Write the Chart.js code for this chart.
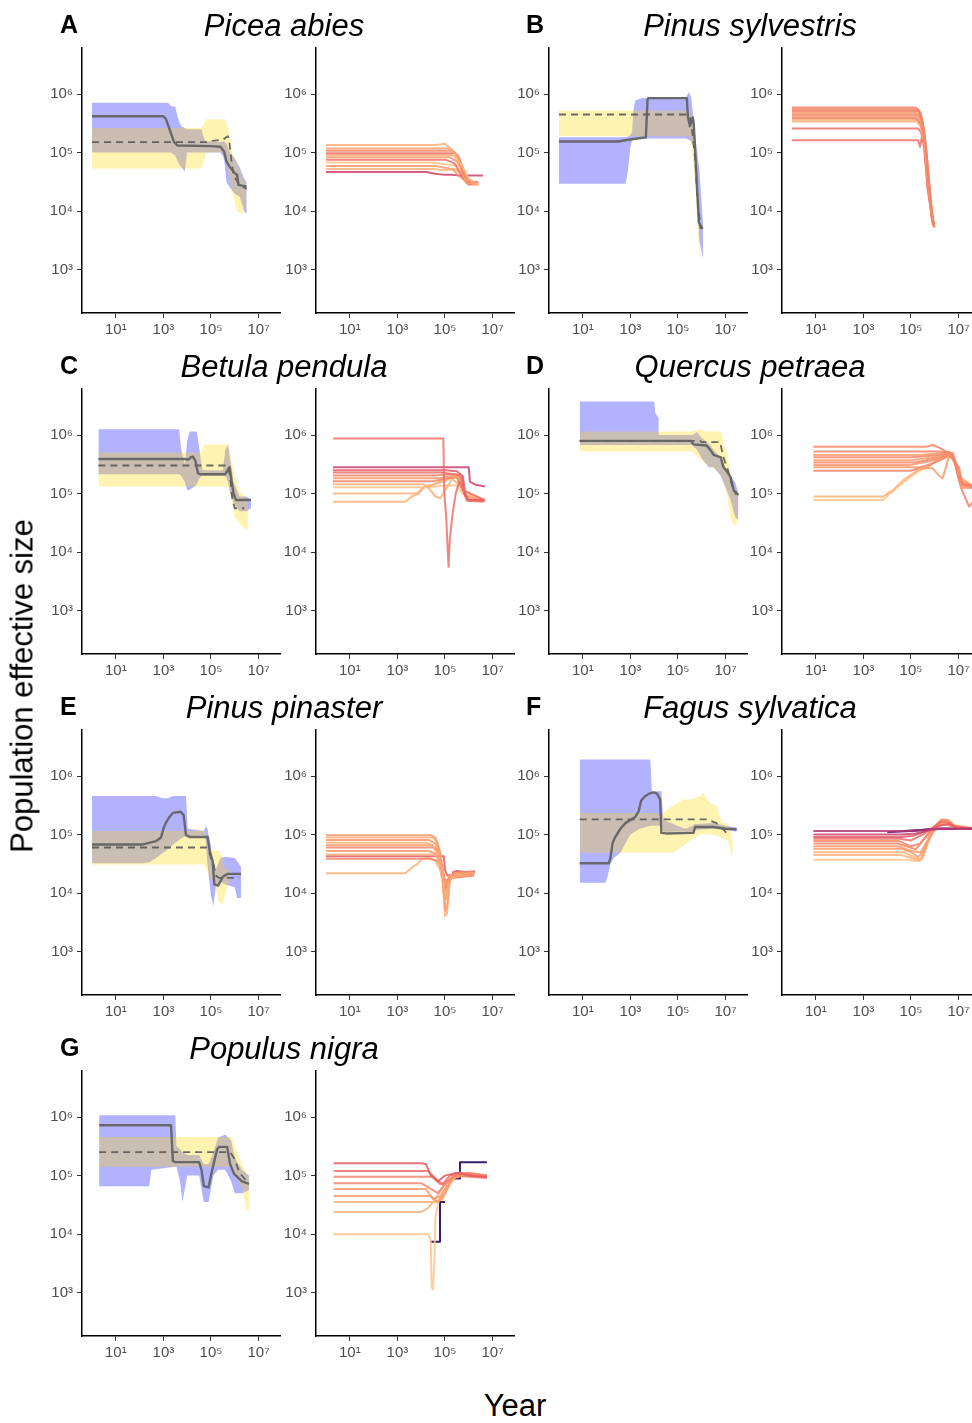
<!DOCTYPE html>
<html>
<head>
<meta charset="utf-8">
<script src="https://cdn.jsdelivr.net/npm/chart.js@4.4.1/dist/chart.umd.min.js"></script>
<style>
html,body{margin:0;padding:0;background:#fff;}
body{width:972px;height:1423px;overflow:hidden;position:relative;font-family:"Liberation Sans",Arial,sans-serif;}
canvas{position:absolute;}
.title{position:absolute;font-style:italic;font-size:31px;line-height:31px;white-space:nowrap;transform:translateX(-50%);color:#000;}
.letter{position:absolute;font-weight:bold;font-size:25px;line-height:25px;color:#000;}
.axt{position:absolute;font-size:31px;line-height:31px;white-space:nowrap;color:#000;}
</style>
</head>
<body>
<script>
// ---------------- DATA (all values are log10: [log10(year), log10(Ne)] ) ----------------
const speciesNames = ['Picea abies','Pinus sylvestris','Betula pendula','Quercus petraea','Pinus pinaster','Fagus sylvatica','Populus nigra'];
const panelLetters = ['A','B','C','D','E','F','G'];
const xTickExponents = [1,3,5,7];
const yTickExponents = [3,4,5,6];

// ---- A: Picea abies ----  bands: [logYear, logLow, logHigh]
const piceaBlueBand = [[0,5.0,5.85],[3.2,5.0,5.85],[3.3,5.0,5.8],[3.5,4.95,5.78],[3.6,4.85,5.6],[3.75,4.75,5.45],[3.9,4.68,5.42],[4.0,5.0,5.4],[4.6,5.0,5.4],[4.75,5.0,5.2],[5.4,5.0,5.18],[5.55,4.9,5.2],[5.65,4.5,5.15],[5.8,4.4,5.0],[6.0,4.3,4.9],[6.2,4.25,4.75],[6.4,4.0,4.55],[6.5,3.95,4.5]];
const piceaYellowBand = [[0,4.73,5.42],[4.6,4.73,5.42],[4.7,4.85,5.5],[4.8,5.0,5.57],[5.6,5.0,5.57],[5.75,4.6,5.4],[5.9,4.3,5.0],[6.1,4.0,4.8],[6.3,3.95,4.6],[6.45,4.1,4.45]];
const piceaSolid = [[0,5.62],[3.0,5.62],[3.1,5.58],[3.3,5.35],[3.45,5.18],[3.6,5.12],[5.0,5.11],[5.4,5.1],[5.55,5.02],[5.65,4.85],[5.8,4.75],[6.0,4.65],[6.1,4.62],[6.15,4.45],[6.5,4.42]];
const piceaDashed = [[0,5.18],[4.9,5.18],[5.05,5.2],[5.5,5.22],[5.7,5.28],[5.75,5.25],[5.85,4.9],[5.95,4.6],[6.2,4.45],[6.5,4.38]];
const piceaRuns = [
 [[0,5.13],[4.6,5.13],[5.0,5.15],[5.3,5.05],[5.6,4.85],[5.8,4.7],[6.0,4.55],[6.4,4.45]],
 [[0,5.07],[5.2,5.07],[5.4,5.0],[5.6,4.9],[5.75,4.75],[6.0,4.5],[6.4,4.45]],
 [[0,5.03],[5.3,5.03],[5.55,4.95],[5.7,4.7],[5.9,4.55],[6.3,4.48]],
 [[0,4.99],[5.4,4.99],[5.6,4.9],[5.75,4.68],[6.0,4.5],[6.35,4.5]],
 [[0,4.96],[5.3,4.96],[5.5,4.9],[5.7,4.75],[5.85,4.55],[6.3,4.45]],
 [[0,4.92],[5.2,4.92],[5.5,4.85],[5.7,4.72],[5.9,4.48],[6.4,4.47]],
 [[0,4.88],[5.0,4.88],[5.4,4.82],[5.7,4.6],[6.0,4.45],[6.4,4.5]],
 [[0,4.83],[4.5,4.83],[5.0,4.8],[5.5,4.78],[5.8,4.6],[6.1,4.45],[6.4,4.45]],
 [[0,4.77],[4.6,4.77],[4.9,4.75],[5.3,4.72],[5.6,4.6],[5.9,4.5],[6.3,4.48]],
 [[0,4.72],[4.5,4.72],[5.0,4.7],[5.4,4.72],[5.7,4.65],[6.0,4.5],[6.4,4.45]],
 [[0,4.67],[4.2,4.67],[4.6,4.64],[5.0,4.62],[5.3,4.62],[5.6,4.61],[6.6,4.61]]
];
const piceaRunColors = [1,2,3,4,1,2,4,0,2,1,6];

// ---- B: Pinus sylvestris ----
const sylvBlueBand = [[0,4.47,5.26],[2.8,4.47,5.26],[2.9,4.7,5.27],[3.0,5.1,5.3],[3.07,5.2,5.35],[3.12,5.22,5.7],[3.2,5.24,5.89],[3.5,5.24,5.93],[5.35,5.24,5.95],[5.45,5.22,6.03],[5.55,5.2,5.95],[5.65,5.1,5.6],[5.75,4.6,5.2],[5.9,3.5,4.7],[6.05,3.19,3.8]];
const sylvYellowBand = [[0,5.28,5.72],[5.5,5.28,5.72],[5.55,5.1,5.6],[5.65,4.8,5.4],[5.75,4.3,5.0],[5.85,3.5,4.4],[5.95,3.16,3.9]];
const sylvSolid = [[0,5.19],[2.5,5.19],[2.9,5.22],[3.3,5.24],[3.65,5.26],[3.72,5.9],[3.75,5.93],[5.37,5.93],[5.42,5.6],[5.5,5.45],[5.58,5.55],[5.62,5.6],[5.66,5.5],[5.72,5.05],[5.8,4.4],[5.88,3.8],[6.04,3.7]];
const sylvDashed = [[0,5.65],[5.37,5.65],[5.5,5.6],[5.62,5.3],[5.72,4.9],[5.82,4.2],[5.95,3.7]];
const sylvRuns = [
 [[0,5.77],[5.2,5.77],[5.35,5.72],[5.5,5.5],[5.65,5.0],[5.8,4.3],[5.95,3.75]],
 [[0,5.74],[5.25,5.74],[5.4,5.68],[5.55,5.4],[5.7,4.8],[5.85,4.1],[5.98,3.72]],
 [[0,5.71],[5.3,5.71],[5.45,5.6],[5.6,5.2],[5.75,4.5],[5.9,3.9],[5.97,3.78]],
 [[0,5.68],[5.2,5.68],[5.38,5.62],[5.52,5.35],[5.68,4.7],[5.85,4.0],[5.95,3.8]],
 [[0,5.65],[5.3,5.65],[5.45,5.55],[5.58,5.2],[5.72,4.6],[5.88,3.85],[5.96,3.76]],
 [[0,5.62],[5.25,5.62],[5.42,5.55],[5.55,5.3],[5.7,4.7],[5.85,4.0],[5.99,3.72]],
 [[0,5.59],[5.2,5.59],[5.4,5.5],[5.55,5.25],[5.7,4.55],[5.9,3.8]],
 [[0,5.56],[5.3,5.56],[5.45,5.45],[5.6,5.1],[5.75,4.4],[5.92,3.75]],
 [[0,5.53],[5.25,5.53],[5.4,5.45],[5.55,5.2],[5.72,4.5],[5.9,3.82]],
 [[0,5.41],[5.3,5.41],[5.42,5.35],[5.55,5.1],[5.7,4.4],[5.9,3.8]],
 [[0,5.21],[5.3,5.21],[5.38,5.1],[5.45,5.25],[5.55,5.15],[5.7,4.4],[5.95,3.75]]
];
const sylvRunColors = [3,3,3,2,3,2,3,1,1,4,4];

// ---- C: Betula pendula ----
const betulaBlueBand = [[0.27,5.33,6.1],[3.66,5.33,6.1],[3.75,5.3,5.75],[3.9,5.2,5.5],[4.0,5.06,5.9],[4.1,5.06,6.06],[4.4,5.15,6.06],[4.5,5.25,5.8],[4.6,5.3,5.5],[4.65,5.3,5.4],[5.5,5.3,5.4],[5.6,5.3,5.75],[5.72,5.2,5.84],[5.8,5.0,5.6],[5.95,4.85,5.2],[6.2,4.7,4.95],[6.5,4.7,4.95],[6.68,4.75,4.9]];
const betulaYellowBand = [[0.27,5.12,5.70],[4.6,5.12,5.70],[4.7,5.12,5.84],[5.75,5.12,5.84],[5.85,4.9,5.6],[6.0,4.6,5.3],[6.2,4.5,5.05],[6.4,4.4,4.95],[6.55,4.38,4.85]];
const betulaSolid = [[0.27,5.59],[3.9,5.59],[4.05,5.58],[4.15,5.62],[4.25,5.63],[4.35,5.55],[4.45,5.35],[4.55,5.33],[5.6,5.33],[5.7,5.4],[5.78,5.45],[5.85,5.25],[5.95,5.0],[6.05,4.89],[6.68,4.89]];
const betulaDashed = [[0.27,5.48],[5.7,5.48],[5.8,5.3],[5.9,4.9],[6.0,4.75],[6.4,4.75]];
const betulaRuns = [
 [[0.29,5.94],[4.93,5.94],[4.97,5.0],[5.05,4.6],[5.12,4.0],[5.15,3.75],[5.2,4.2],[5.3,4.6],[5.45,5.0],[5.6,5.2],[5.8,5.05],[6.6,4.9]],
 [[0.29,5.45],[6.0,5.45],[6.05,5.2],[6.3,5.15],[6.68,5.12]],
 [[0.29,5.4],[5.0,5.4],[5.5,5.38],[5.75,5.3],[5.85,5.0],[5.95,4.9],[6.68,4.88]],
 [[0.29,5.36],[4.8,5.36],[5.4,5.33],[5.7,5.3],[5.82,4.98],[6.0,4.88],[6.68,4.9]],
 [[0.29,5.31],[4.6,5.31],[5.2,5.33],[5.6,5.32],[5.8,5.05],[5.95,4.88],[6.6,4.86]],
 [[0.29,5.26],[4.7,5.26],[5.3,5.3],[5.7,5.25],[5.85,4.95],[6.6,4.9]],
 [[0.29,5.21],[4.5,5.21],[5.0,5.26],[5.5,5.28],[5.8,5.0],[6.0,4.9],[6.65,4.88]],
 [[0.29,5.16],[4.1,5.16],[4.3,5.1],[4.6,4.95],[4.8,4.92],[5.0,5.05],[5.3,5.25],[5.75,5.1],[5.9,4.88],[6.6,4.87]],
 [[0.29,5.11],[4.2,5.11],[4.6,5.12],[5.0,5.14],[5.5,5.14],[5.75,5.0],[6.6,4.9]],
 [[0.29,5.0],[3.82,5.0],[4.1,5.12],[4.5,5.15],[5.0,5.25],[5.5,5.28],[5.8,5.0],[6.6,4.9]],
 [[0.29,4.86],[3.33,4.86],[3.6,4.95],[3.9,5.0],[4.1,5.1],[4.5,5.15],[5.0,5.22],[5.5,5.3],[5.8,5.05],[6.6,4.9]]
];
const betulaRunColors = [4,6,5,4,3,2,3,1,0,1,1];

// ---- D: Quercus petraea ----
const quercusBlueBand = [[0.87,5.83,6.57],[4.0,5.83,6.57],[4.05,5.83,6.37],[4.18,5.83,6.3],[4.19,5.83,6.0],[5.6,5.83,6.0],[5.8,5.75,6.05],[6.0,5.6,5.95],[6.3,5.45,5.85],[6.5,5.45,5.75],[6.8,5.3,5.6],[7.0,5.1,5.45],[7.2,4.9,5.3],[7.4,4.6,5.2],[7.54,4.55,5.0]];
const quercusYellowBand = [[0.87,5.72,6.06],[5.6,5.72,6.06],[5.9,5.6,6.1],[6.2,5.5,6.06],[6.6,5.4,6.06],[6.84,5.3,6.06],[6.9,5.2,5.85],[7.05,5.0,5.7],[7.2,4.6,5.4],[7.35,4.45,5.1],[7.5,4.5,4.95]];
const quercusSolid = [[0.87,5.9],[5.55,5.9],[5.65,5.84],[6.2,5.82],[6.35,5.75],[6.5,5.66],[6.8,5.62],[6.9,5.46],[7.1,5.35],[7.2,5.29],[7.35,5.05],[7.54,4.98]];
const quercusDashed = [[0.87,5.9],[5.93,5.9],[6.0,5.88],[6.77,5.88],[6.9,5.63],[7.1,5.4],[7.3,5.1],[7.45,4.98]];
const quercusRuns = [
 [[0.9,5.8],[5.64,5.8],[5.92,5.83],[6.2,5.78],[6.47,5.72],[6.75,5.69],[6.9,5.5],[7.02,5.45],[7.16,5.17],[7.7,5.1]],
 [[0.9,5.72],[5.5,5.72],[6.2,5.72],[6.6,5.7],[6.8,5.6],[7.0,5.3],[7.2,5.15],[7.7,5.12]],
 [[0.9,5.66],[5.3,5.66],[6.0,5.68],[6.5,5.7],[6.8,5.62],[7.0,5.4],[7.15,5.1],[7.7,5.1]],
 [[0.9,5.62],[5.0,5.62],[6.0,5.65],[6.6,5.69],[6.85,5.55],[7.05,5.2],[7.7,5.1]],
 [[0.9,5.57],[5.0,5.57],[6.0,5.62],[6.6,5.68],[6.85,5.55],[7.1,5.2],[7.7,5.08]],
 [[0.9,5.53],[5.2,5.53],[6.0,5.6],[6.6,5.67],[6.9,5.5],[7.1,5.15],[7.7,5.1]],
 [[0.9,5.49],[5.0,5.49],[5.8,5.55],[6.5,5.65],[6.8,5.6],[7.0,5.3],[7.2,5.12],[7.7,5.08]],
 [[0.9,5.45],[5.5,5.45],[5.92,5.43],[6.19,5.3],[6.33,5.26],[6.47,5.45],[6.6,5.65],[6.8,5.6],[7.0,5.25],[7.7,5.12]],
 [[0.9,5.39],[5.0,5.39],[5.8,5.5],[6.4,5.6],[6.7,5.66],[6.9,5.45],[7.1,5.1],[7.44,4.78],[7.7,4.9]],
 [[0.9,4.95],[3.84,4.95],[4.0,5.0],[4.25,5.06],[4.67,5.23],[5.3,5.4],[5.64,5.43],[6.0,5.55],[6.5,5.65],[6.75,5.69],[7.0,5.3],[7.7,5.1]],
 [[0.9,4.89],[3.84,4.89],[4.1,5.0],[4.3,5.06],[4.7,5.2],[5.2,5.35],[5.64,5.45],[6.19,5.57],[6.5,5.64],[6.8,5.6],[7.05,5.2],[7.7,5.09]]
];
const quercusRunColors = [3,3,2,3,2,3,2,2,3,1,0];

// ---- E: Pinus pinaster ----
const pinasterBlueBand = [[0,4.51,5.66],[2.1,4.51,5.66],[2.4,4.53,5.66],[2.7,4.6,5.66],[2.96,4.68,5.62],[3.2,4.75,5.62],[3.4,4.83,5.66],[3.7,4.92,5.66],[3.95,4.98,5.66],[4.02,4.98,5.1],[4.7,4.98,5.06],[4.78,4.9,5.15],[4.85,4.5,5.1],[5.0,3.95,4.8],[5.1,3.78,4.5],[5.2,4.1,4.4],[5.4,4.2,4.6],[5.6,4.15,4.62],[6.0,4.1,4.6],[6.1,3.92,4.55],[6.26,3.92,4.45]];
const pinasterYellowBand = [[0,4.49,5.06],[4.72,4.49,5.06],[4.8,4.4,4.9],[4.9,4.3,4.75],[5.1,4.2,4.72],[5.35,3.85,4.72],[5.5,3.81,4.6],[5.6,4.0,4.4],[5.77,4.2,4.4]];
const pinasterSolid = [[0,4.83],[2.1,4.83],[2.4,4.86],[2.7,4.89],[2.9,4.95],[3.0,5.1],[3.1,5.2],[3.25,5.3],[3.4,5.37],[3.73,5.39],[3.85,5.33],[3.95,4.99],[4.1,4.96],[4.86,4.96],[4.95,4.7],[5.07,4.55],[5.14,4.15],[5.3,4.13],[5.5,4.28],[5.7,4.33],[6.26,4.33]];
const pinasterDashed = [[0,4.78],[4.79,4.78],[4.93,4.69],[5.0,4.6],[5.1,4.52],[5.2,4.3],[5.35,4.26],[6.19,4.26]];
const pinasterRuns = [
 [[0,4.99],[4.4,4.99],[4.6,4.95],[4.8,4.7],[4.95,4.3],[5.05,4.15],[5.15,4.2],[5.25,4.3],[5.4,4.35],[6.2,4.33]],
 [[0,4.95],[4.5,4.95],[4.7,4.85],[4.85,4.5],[5.0,4.0],[5.05,3.9],[5.12,4.1],[5.2,4.25],[5.5,4.3],[6.1,4.35]],
 [[0,4.91],[4.3,4.91],[4.6,4.85],[4.8,4.6],[4.95,4.1],[5.02,3.7],[5.1,3.8],[5.18,4.2],[5.35,4.32],[6.0,4.3]],
 [[0,4.86],[4.2,4.86],[4.5,4.82],[4.75,4.55],[4.9,4.2],[5.0,3.61],[5.08,3.65],[5.15,4.0],[5.25,4.3],[6.26,4.35]],
 [[0,4.82],[4.4,4.82],[4.7,4.75],[4.85,4.4],[4.95,4.0],[5.05,3.9],[5.15,4.2],[5.3,4.28],[6.2,4.3]],
 [[0,4.78],[4.5,4.78],[4.75,4.7],[4.9,4.35],[5.0,4.05],[5.1,4.15],[5.2,4.3],[6.15,4.32]],
 [[0,4.72],[4.3,4.72],[4.6,4.68],[4.8,4.5],[4.95,4.2],[5.05,4.1],[5.2,4.3],[5.5,4.35],[6.2,4.36]],
 [[0,4.66],[4.6,4.66],[4.8,4.55],[4.92,4.3],[5.0,3.95],[5.1,4.1],[5.2,4.28],[6.1,4.3]],
 [[0,4.63],[4.95,4.63],[5.0,4.4],[5.1,4.3],[5.3,4.32],[5.5,4.35],[6.26,4.34]],
 [[0,4.59],[4.4,4.59],[4.7,4.55],[4.9,4.4],[5.0,4.2],[5.15,4.25],[6.2,4.3]],
 [[0,4.34],[3.33,4.34],[3.5,4.4],[3.68,4.46],[3.85,4.5],[4.03,4.58],[4.3,4.6],[4.6,4.55],[4.8,4.4],[4.95,4.1],[5.05,4.2],[5.3,4.3],[6.2,4.32]],
 [[5.3,4.35],[5.5,4.38],[5.8,4.36],[6.26,4.37]],
 [[5.35,4.3],[5.6,4.32],[6.0,4.3],[6.2,4.33]]
];
const pinasterRunColors = [2,1,2,1,2,3,2,1,5,3,1,6,6];

// ---- F: Fagus sylvatica ----
const fagusBlueBand = [[0.87,4.18,6.28],[1.95,4.18,6.28],[2.05,4.3,6.28],[2.16,4.5,6.28],[2.3,4.6,6.28],[2.58,4.69,6.28],[2.79,4.85,6.28],[3.0,5.0,6.28],[3.4,5.1,6.28],[3.84,5.15,6.28],[3.9,5.15,5.74],[4.3,5.15,5.74],[4.39,5.05,5.25],[5.3,5.05,5.1],[5.45,5.03,5.12],[5.6,5.05,5.15],[5.72,5.08,5.18],[6.5,5.1,5.2],[7.0,5.08,5.15],[7.47,5.05,5.12]];
const fagusYellowBand = [[0.87,4.69,5.37],[4.4,4.69,5.37],[4.5,4.69,5.43],[4.8,4.69,5.49],[5.2,4.8,5.6],[5.5,4.9,5.6],[5.9,5.0,5.65],[6.07,5.0,5.72],[6.2,5.0,5.6],[6.42,5.0,5.52],[6.63,4.98,5.5],[6.84,4.95,5.2],[7.1,4.9,5.2],[7.25,4.63,5.0],[7.3,4.6,4.9]];
const fagusSolid = [[0.87,4.51],[2.09,4.51],[2.16,4.6],[2.25,4.85],[2.35,4.95],[2.58,5.1],[2.8,5.2],[3.0,5.25],[3.2,5.3],[3.35,5.4],[3.45,5.58],[3.6,5.65],[3.8,5.7],[3.97,5.72],[4.12,5.7],[4.25,5.6],[4.3,5.03],[4.5,5.02],[5.65,5.03],[5.72,5.13],[6.5,5.13],[7.0,5.1],[7.47,5.09]];
const fagusDashed = [[0.87,5.26],[6.2,5.26],[6.6,5.2],[6.84,5.12],[7.05,5.02],[7.1,5.0]];
const fagusRuns = [
 [[0.9,5.06],[5.0,5.06],[5.6,5.08],[6.0,5.1],[7.7,5.1]],
 [[0.9,5.0],[4.6,5.0],[5.2,5.02],[5.8,5.08],[6.3,5.1],[7.7,5.1]],
 [[0.9,4.96],[4.6,4.96],[5.1,4.98],[5.6,5.05],[6.2,5.15],[6.6,5.18],[6.9,5.12],[7.7,5.1]],
 [[0.9,4.93],[4.5,4.93],[5.0,4.9],[5.5,5.0],[6.0,5.15],[6.3,5.22],[6.6,5.2],[6.9,5.12],[7.7,5.1]],
 [[0.9,4.89],[4.5,4.89],[5.0,4.8],[5.4,4.85],[5.8,5.05],[6.2,5.22],[6.5,5.25],[6.8,5.15],[7.7,5.1]],
 [[0.9,4.85],[4.4,4.85],[4.8,4.8],[5.2,4.75],[5.5,4.9],[5.9,5.1],[6.3,5.25],[6.6,5.22],[7.0,5.1],[7.7,5.1]],
 [[0.9,4.8],[4.5,4.8],[5.0,4.72],[5.4,4.7],[5.7,4.9],[6.1,5.15],[6.5,5.2],[7.0,5.1],[7.7,5.1]],
 [[0.9,4.76],[4.6,4.76],[5.0,4.7],[5.3,4.62],[5.5,4.7],[5.8,5.0],[6.2,5.2],[6.6,5.15],[7.7,5.1]],
 [[0.9,4.7],[4.7,4.7],[5.1,4.62],[5.4,4.58],[5.6,4.75],[5.9,5.05],[6.3,5.2],[7.7,5.1]],
 [[0.9,4.65],[4.6,4.65],[5.0,4.6],[5.36,4.55],[5.5,4.6],[5.7,4.85],[6.0,5.1],[6.4,5.22],[7.0,5.1],[7.7,5.1]],
 [[0.9,4.57],[4.8,4.57],[5.2,4.55],[5.45,4.6],[5.6,4.8],[5.9,5.05],[6.26,5.26],[6.6,5.25],[6.89,5.12],[7.7,5.1]],
 [[4.67,5.06],[5.5,5.08],[6.0,5.1],[7.7,5.1]],
 [[4.0,5.04],[5.0,5.06],[6.0,5.1],[7.7,5.1]]
];
const fagusRunColors = [7,6,5,4,3,3,2,2,1,1,0,9,8];

// ---- G: Populus nigra ----
const populusBlueBand = [[0.3,4.82,6.03],[2.4,4.82,6.03],[2.5,5.1,6.03],[3.5,5.15,6.03],[3.55,5.15,5.5],[3.7,4.9,5.45],[3.8,4.55,5.4],[4.0,5.0,5.35],[4.5,5.0,5.35],[4.7,4.55,5.2],[4.9,4.55,5.2],[5.1,5.0,5.4],[5.3,5.1,5.65],[5.6,5.1,5.7],[5.85,4.9,5.6],[6.0,4.7,5.3],[6.3,4.7,5.1],[6.6,4.75,5.0]];
const populusYellowBand = [[0.3,5.15,5.66],[5.9,5.15,5.66],[6.0,5.0,5.5],[6.3,4.8,5.2],[6.5,4.4,5.05],[6.6,4.4,4.95]];
const populusSolid = [[0.3,5.86],[3.32,5.86],[3.4,5.25],[3.5,5.23],[4.5,5.23],[4.6,5.1],[4.7,4.82],[4.9,4.8],[5.0,5.0],[5.13,5.23],[5.26,5.45],[5.34,5.49],[5.68,5.49],[5.8,5.2],[5.97,5.03],[6.3,4.9],[6.6,4.86]];
const populusDashed = [[0.3,5.40],[5.8,5.40],[5.97,5.3],[6.2,5.05],[6.4,4.95],[6.5,4.9]];
const populusRuns = [
 [[0.32,5.21],[4.0,5.21],[4.2,5.2],[4.4,5.0],[4.7,4.9],[5.0,5.0],[5.5,5.05],[6.0,5.0],[6.5,4.98],[6.76,4.97]],
 [[0.32,5.08],[4.3,5.08],[4.6,4.95],[4.9,4.85],[5.2,5.0],[5.6,5.05],[6.2,5.0],[6.76,4.99]],
 [[0.32,4.98],[4.5,4.98],[4.8,4.85],[5.1,4.9],[5.5,5.02],[6.0,5.05],[6.76,5.0]],
 [[0.32,4.87],[4.0,4.87],[4.3,4.8],[4.7,4.7],[5.0,4.85],[5.4,5.0],[6.0,4.98],[6.76,4.96]],
 [[0.32,4.77],[4.2,4.77],[4.5,4.6],[4.8,4.65],[5.2,4.9],[5.6,5.05],[6.76,5.0]],
 [[0.32,4.65],[4.4,4.65],[4.7,4.55],[5.0,4.7],[5.3,4.95],[6.0,5.02],[6.76,5.0]],
 [[0.32,4.55],[4.6,4.55],[4.9,4.6],[5.2,4.85],[5.5,5.0],[6.2,5.0],[6.76,4.98]],
 [[0.32,4.38],[4.0,4.38],[4.3,4.45],[4.6,4.6],[4.9,4.8],[5.3,5.0],[6.76,5.0]],
 [[0.32,4.0],[4.3,4.0],[4.4,3.9],[4.44,3.1],[4.5,3.06],[4.55,3.5],[4.6,4.3],[4.75,4.6],[5.0,4.75],[5.4,5.0],[6.76,4.98]],
 [[5.3,4.95],[5.63,4.95],[5.63,5.23],[6.76,5.23]],
 [[4.38,3.87],[4.79,3.87],[4.79,4.55],[5.0,4.55]]
];
const populusRunColors = [5,4,3,3,2,2,1,1,0,9,9];

// ---------------- STYLE ----------------
const palette = ['rgba(254,196,138,0.85)','rgba(253,176,122,0.85)','rgba(250,154,108,0.85)','rgba(245,133,106,0.85)',
 'rgba(238,112,104,0.85)','rgba(226,90,102,0.85)','rgba(207,67,107,0.85)','rgba(179,54,122,0.85)',
 'rgba(106,28,129,0.9)','rgba(45,17,96,0.95)'];
const BLUE_FILL = 'rgba(0,0,255,0.3)';
const YELLOW_FILL = 'rgba(255,215,0,0.3)';
const MEDIAN_COLOR = 'rgba(100,100,100,0.95)';
const DASH_COLOR = 'rgba(90,90,90,0.9)';

const allSpecies = [
 {blue:piceaBlueBand, yellow:piceaYellowBand, solid:piceaSolid, dashed:piceaDashed, runs:piceaRuns, colors:piceaRunColors},
 {blue:sylvBlueBand, yellow:sylvYellowBand, solid:sylvSolid, dashed:sylvDashed, runs:sylvRuns, colors:sylvRunColors},
 {blue:betulaBlueBand, yellow:betulaYellowBand, solid:betulaSolid, dashed:betulaDashed, runs:betulaRuns, colors:betulaRunColors},
 {blue:quercusBlueBand, yellow:quercusYellowBand, solid:quercusSolid, dashed:quercusDashed, runs:quercusRuns, colors:quercusRunColors},
 {blue:pinasterBlueBand, yellow:pinasterYellowBand, solid:pinasterSolid, dashed:pinasterDashed, runs:pinasterRuns, colors:pinasterRunColors},
 {blue:fagusBlueBand, yellow:fagusYellowBand, solid:fagusSolid, dashed:fagusDashed, runs:fagusRuns, colors:fagusRunColors},
 {blue:populusBlueBand, yellow:populusYellowBand, solid:populusSolid, dashed:populusDashed, runs:populusRuns, colors:populusRunColors}
];

// ---------------- LAYOUT ----------------
const colAxisX = [82, 316, 549, 782];
const rowTop = [48, 389, 730, 1071];
const PLOT_W = 198, PLOT_H = 265, YW = 50, XH = 36, PADT = 6, PADR = 6;
const X_MIN = Math.pow(10,-0.42), X_MAX = Math.pow(10,7.9);
const Y_MIN = Math.pow(10,2.263), Y_MAX = Math.pow(10,6.785);

const SUP = {'0':'\u2070','1':'\u00B9','2':'\u00B2','3':'\u00B3','4':'\u2074','5':'\u2075','6':'\u2076','7':'\u2077','8':'\u2078','9':'\u2079','-':'\u207B'};
function powLabel(v){
  const e = Math.round(Math.log10(v));
  return '10' + String(e).split('').map(c => SUP[c]).join('');
}
const pt = r => ({x: Math.pow(10, r[0]), y: Math.pow(10, r[1])});

Chart.defaults.animation = false;
Chart.defaults.events = [];
Chart.defaults.plugins.legend.display = false;
Chart.defaults.plugins.tooltip.enabled = false;
Chart.defaults.font.family = '"Liberation Sans", Arial, sans-serif';

function scaleOpts(axis, exps, min, max){
  return {
    type: 'logarithmic', min, max,
    afterBuildTicks: s => { s.ticks = exps.map(e => ({value: Math.pow(10, e)})); },
    afterFit: s => {
      if (axis === 'x') s.height = XH; else s.width = YW;
      s.paddingTop = 0; s.paddingBottom = 0; s.paddingLeft = 0; s.paddingRight = 0;
    },
    border: {display: true, color: '#000', width: 1.5},
    grid: {display: true, drawOnChartArea: false, drawTicks: true, tickLength: 5, tickColor: '#333', tickWidth: 1},
    ticks: {autoSkip: false, maxRotation: 0, minRotation: 0, padding: axis === 'x' ? 3 : 4,
            color: '#4D4D4D', font: {size: 15}, callback: v => powLabel(v)}
  };
}

function makeCanvas(col, row){
  const c = document.createElement('canvas');
  const w = YW + PLOT_W + PADR, h = PADT + PLOT_H + XH;
  c.width = w; c.height = h;
  c.style.width = w + 'px'; c.style.height = h + 'px';
  c.style.left = (colAxisX[col] - YW) + 'px';
  c.style.top = (rowTop[row] - PADT) + 'px';
  document.body.appendChild(c);
  return c;
}

function build(canvas, datasets){
  new Chart(canvas, {
    type: 'line',
    data: {datasets},
    options: {
      responsive: false, maintainAspectRatio: false, devicePixelRatio: 1,
      layout: {padding: {top: PADT, right: PADR, left: 0, bottom: 0}},
      elements: {point: {radius: 0}, line: {tension: 0, borderJoinStyle: 'round'}},
      scales: {x: scaleOpts('x', xTickExponents, X_MIN, X_MAX), y: scaleOpts('y', yTickExponents, Y_MIN, Y_MAX)}
    }
  });
}

function bandSets(band, color, order){
  return [
    {data: band.map(r => pt([r[0], r[1]])), borderWidth: 0, borderColor: 'rgba(0,0,0,0)', fill: false, order},
    {data: band.map(r => pt([r[0], r[2]])), borderWidth: 0, borderColor: 'rgba(0,0,0,0)', fill: '-1', backgroundColor: color, order}
  ];
}

function addText(cls, txt, left, top){
  const d = document.createElement('div');
  d.className = cls; d.textContent = txt;
  d.style.left = left + 'px'; d.style.top = top + 'px';
  document.body.appendChild(d);
  return d;
}

allSpecies.forEach((sp, i) => {
  const row = Math.floor(i / 2), side = i % 2;
  const colL = side * 2, colR = side * 2 + 1;
  const left = [
    ...bandSets(sp.blue, BLUE_FILL, 4),
    ...bandSets(sp.yellow, YELLOW_FILL, 3),
    {data: sp.dashed.map(pt), borderColor: DASH_COLOR, borderWidth: 1.8, borderDash: [7,5], fill: false, order: 2},
    {data: sp.solid.map(pt), borderColor: MEDIAN_COLOR, borderWidth: 2.4, fill: false, order: 1}
  ];
  build(makeCanvas(colL, row), left);
  const right = sp.runs.map((run, k) => ({
    data: run.map(pt), borderColor: palette[sp.colors[k]], borderWidth: 2, fill: false
  }));
  build(makeCanvas(colR, row), right);
  const cx = side === 0 ? 284 : 750;
  addText('title', speciesNames[i], cx, 10 + row * 341);
  addText('letter', panelLetters[i], side === 0 ? 60 : 526, 12 + row * 341);
});

const yt = addText('axt', 'Population effective size', 22, 686);
yt.style.transform = 'translate(-50%,-50%) rotate(-90deg)';
const xt = addText('axt', 'Year', 515, 1390);
xt.style.transform = 'translateX(-50%)';
</script>
</body>
</html>
